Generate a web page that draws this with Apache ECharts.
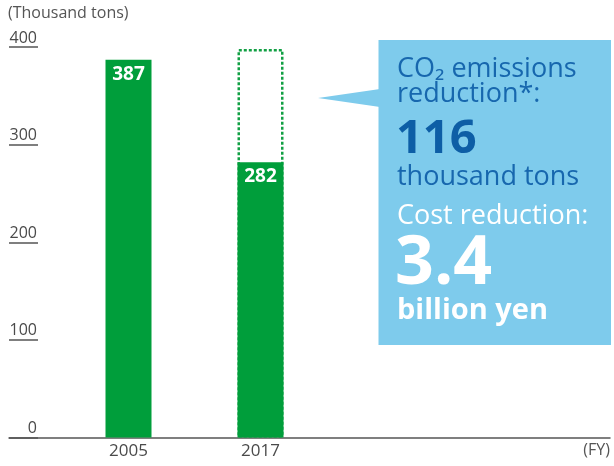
<!DOCTYPE html>
<html><head><meta charset="utf-8">
<script src="https://cdn.jsdelivr.net/npm/echarts@6/dist/echarts.min.js"></script>
<style>html,body{margin:0;padding:0;background:#fff}#c{width:614px;height:466px}</style>
</head><body><div id="c"></div>
<script>
const years = [2005, 2017];
const emissions = [387, 282];
const reduction = [null, 116];
const yTicks = [0, 100, 200, 300, 400];

const chart = echarts.init(document.getElementById('c'));
const F = '"Open Sans", sans-serif';
const pxPerYear = 11;
const xMin = 2005 - 119.5 / pxPerYear;
const xMax = xMin + 601 / pxPerYear;

chart.setOption({
  animation: false,
  grid: { left: 9, right: 4, top: 47, bottom: 28.5 },
  xAxis: {
    type: 'value', min: xMin, max: xMax,
    axisLine: { show: true, lineStyle: { color: '#555', width: 1.5 } },
    axisTick: { show: false },
    splitLine: { show: false },
    axisLabel: { customValues: years, formatter: v => String(v), color: '#4a4a4a', fontSize: 17, fontFamily: F, margin: 5 }
  },
  yAxis: {
    type: 'value', min: yTicks[0], max: yTicks[yTicks.length - 1], interval: 100,
    axisLine: { show: false },
    axisTick: { show: true, inside: true, length: 29, lineStyle: { color: '#555', width: 1.5 } },
    splitLine: { show: false },
    axisLabel: { inside: true, align: 'right', margin: 28, verticalAlign: 'bottom', padding: [0, 0, 1, 0], color: '#4a4a4a', fontSize: 16, fontFamily: F }
  },
  series: [
    {
      type: 'bar', barWidth: 46, barGap: '-100%', z: 1,
      data: years.map((y, i) => [y, reduction[i] == null ? '-' : emissions[i] + reduction[i]]),
      itemStyle: { color: 'rgba(255,255,255,0)', borderColor: '#12a044', borderWidth: 2.5, borderType: [3, 2] }
    },
    {
      type: 'bar', barWidth: 46, barGap: '-100%', z: 2,
      data: years.map((y, i) => [y, emissions[i]]),
      itemStyle: { color: '#009e3b', borderColor: '#009e3b', borderWidth: 2 },
      label: { show: true, position: 'insideTop', distance: 5, color: '#fff', fontWeight: 'bold', fontSize: 19, fontFamily: F }
    }
  ],
  graphic: [
    { type: 'text', left: 8, top: 5, style: { text: '(Thousand tons)', fill: '#555', font: '16px ' + F } },
    { type: 'text', right: 4, top: 442, style: { text: '(FY)', fill: '#555', font: '16px ' + F } },
    { type: 'polygon', shape: { points: [[318, 98], [380, 89], [380, 107]] }, style: { fill: '#7ecbec' } },
    { type: 'rect', shape: { x: 378.5, y: 40, width: 232.5, height: 305 }, style: { fill: '#7ecbec' } },
    { type: 'text', x: 397, y: 69, style: { text: 'CO₂ emissions', fill: '#1767ae', font: '27px ' + F, verticalAlign: 'middle' } },
    { type: 'text', x: 397, y: 94, style: { text: 'reduction*:', fill: '#1767ae', font: '27px ' + F, verticalAlign: 'middle' } },
    { type: 'text', x: 396, y: 140, style: { text: '116', fill: '#0d5ea6', font: 'bold 47px ' + F, verticalAlign: 'middle' } },
    { type: 'text', x: 397, y: 177, style: { text: 'thousand tons', fill: '#1767ae', font: '27px ' + F, verticalAlign: 'middle' } },
    { type: 'text', x: 397, y: 216, style: { text: 'Cost reduction:', fill: '#fff', font: '27px ' + F, verticalAlign: 'middle' } },
    { type: 'text', x: 395, y: 265, style: { text: '3.4', fill: '#fff', font: 'bold 68px ' + F, verticalAlign: 'middle' } },
    { type: 'text', x: 397, y: 311, style: { text: 'billion yen', fill: '#fff', font: 'bold 29px ' + F, verticalAlign: 'middle' } }
  ]
});
</script></body></html>
